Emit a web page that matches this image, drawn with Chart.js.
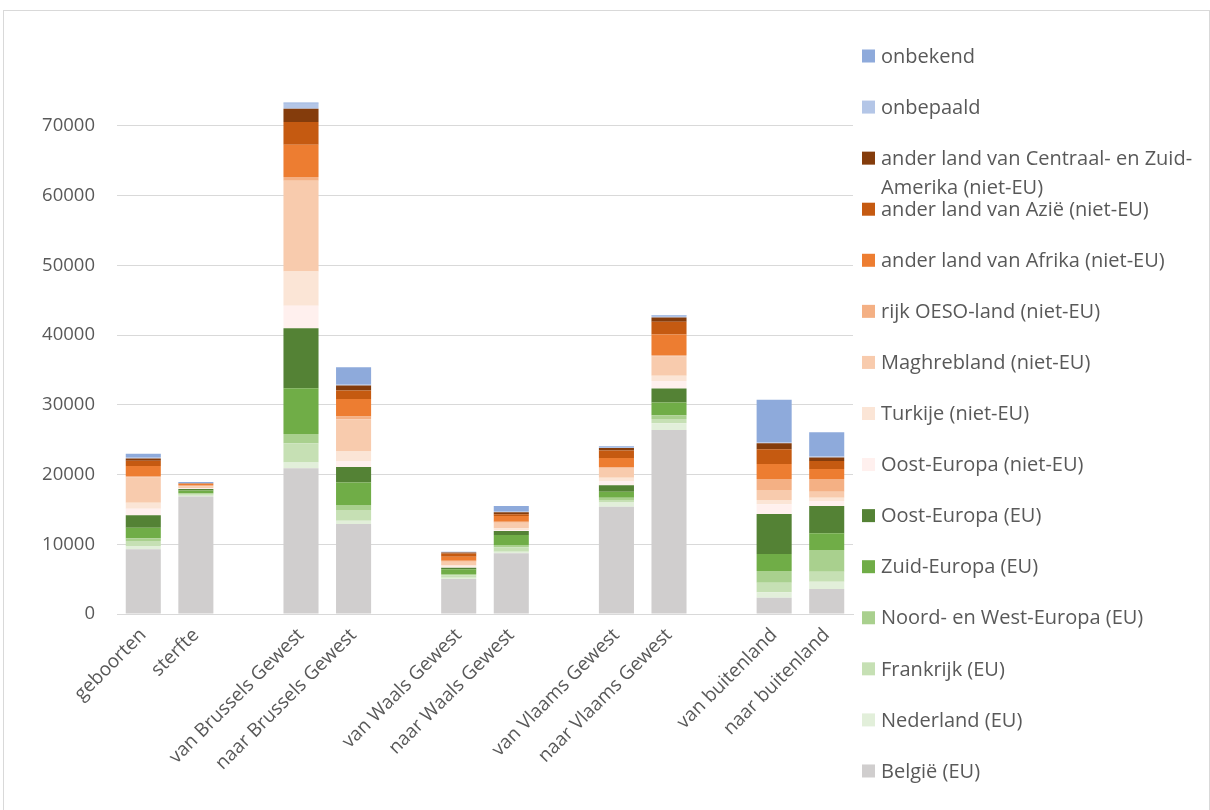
<!DOCTYPE html>
<html>
<head>
<meta charset="utf-8">
<script src="https://cdn.jsdelivr.net/npm/chart.js@4/dist/chart.umd.min.js"></script>
<style>
  body { margin: 0; background: #fff; }
  #frame { position: absolute; left: 3px; top: 10px; width: 1205px; height: 805px; border: 1px solid #d9d9d9; }
  #chart { position: absolute; left: 0; top: 0; }
</style>
</head>
<body>
<div id="frame"></div>
<canvas id="chart" width="1210" height="810"></canvas>
<script>
// categories (empty ones are the gaps between groups)
const categories = ['geboorten', 'sterfte', '', 'van Brussels Gewest', 'naar Brussels Gewest', '',
    'van Waals Gewest', 'naar Waals Gewest', '', 'van Vlaams Gewest', 'naar Vlaams Gewest', '',
    'van buitenland', 'naar buitenland'];

// series, bottom to top of the stack
const belgie      = [9300, 16830, null, 20900, 12910, null, 5020, 8700, null, 15390, 26390, null, 2340, 3590];
const nederland   = [450, 120, null, 810, 470, null, 190, 240, null, 580, 960, null, 770, 1040];
const frankrijk   = [700, 200, null, 2780, 1540, null, 340, 630, null, 380, 620, null, 1380, 1440];
const noordWest   = [400, 160, null, 1330, 720, null, 190, 330, null, 330, 530, null, 1680, 3110];
const zuid        = [1520, 380, null, 6550, 3200, null, 660, 1430, null, 860, 1810, null, 2440, 2390];
const oostEU      = [1770, 240, null, 8610, 2250, null, 240, 580, null, 920, 2010, null, 5740, 3920];
const oostNietEU  = [950, 60, null, 3200, 860, null, 150, 140, null, 620, 1100, null, 1390, 720];
const turkije     = [860, 80, null, 4930, 1330, null, 190, 240, null, 470, 720, null, 610, 470];
const maghreb     = [3630, 250, null, 13000, 4650, null, 520, 810, null, 1390, 2770, null, 1440, 860];
const oeso        = [200, 185, null, 530, 370, null, 150, 140, null, 100, 240, null, 1580, 1830];
const afrika      = [1430, 120, null, 4640, 2540, null, 570, 820, null, 1340, 2920, null, 2150, 1430];
const azie        = [770, 70, null, 3250, 1190, null, 460, 240, null, 1050, 1820, null, 2100, 1150];
const amerika     = [330, 30, null, 1910, 720, null, 150, 290, null, 380, 620, null, 860, 470];
const onbepaald   = [200, 50, null, 710, 240, null, 60, 190, null, 170, 240, null, 100, 150];
const onbekend    = [450, 150, null, 200, 2400, null, 50, 710, null, 120, 100, null, 6120, 3490];

const seriesNames = ['België (EU)', 'Nederland (EU)', 'Frankrijk (EU)', 'Noord- en West-Europa (EU)',
    'Zuid-Europa (EU)', 'Oost-Europa (EU)', 'Oost-Europa (niet-EU)', 'Turkije (niet-EU)',
    'Maghrebland (niet-EU)', 'rijk OESO-land (niet-EU)', 'ander land van Afrika (niet-EU)',
    'ander land van Azië (niet-EU)', 'ander land van Centraal- en Zuid-\nAmerika (niet-EU)',
    'onbepaald', 'onbekend'];
const seriesValues = [belgie, nederland, frankrijk, noordWest, zuid, oostEU, oostNietEU, turkije,
    maghreb, oeso, afrika, azie, amerika, onbepaald, onbekend];
const seriesColors = ['#d0cece', '#e2efda', '#c6e0b4', '#a9d08e', '#70ad47', '#548235', '#fff0ee',
    '#fbe5d6', '#f8cbad', '#f4b084', '#ed7d31', '#c55a11', '#843c0c', '#b4c6e7', '#8eaadb'];

const yTicks = [0, 10000, 20000, 30000, 40000, 50000, 60000, 70000];

const FONT = '"Open Sans", Lato, sans-serif';
Chart.defaults.font.family = FONT;
Chart.defaults.font.size = 18;
Chart.defaults.color = '#595959';

const sideLegend = {
    id: 'sideLegend',
    afterDraw(chart) {
        const ctx = chart.ctx;
        const items = chart.data.datasets.slice().reverse();
        ctx.save();
        ctx.font = '20px ' + FONT;
        ctx.textBaseline = 'middle';
        items.forEach((ds, i) => {
            const y = 56 + i * 51.07;
            ctx.fillStyle = ds.backgroundColor;
            ctx.fillRect(862, y - 6.5, 13, 13);
            ctx.fillStyle = '#595959';
            ds.label.split('\n').forEach((line, j) => ctx.fillText(line, 881, y + 1 + j * 29));
        });
        ctx.restore();
    }
};

new Chart(document.getElementById('chart'), {
    type: 'bar',
    data: {
        labels: categories,
        datasets: seriesNames.map((name, i) => ({
            label: name,
            data: seriesValues[i],
            backgroundColor: seriesColors[i],
            borderWidth: 0,
            barPercentage: 0.667,
            categoryPercentage: 1
        }))
    },
    options: {
        responsive: false,
        animation: false,
        layout: { padding: { left: 0, right: 357, top: 56, bottom: 0 } },
        plugins: { legend: { display: false }, tooltip: { enabled: false } },
        scales: {
            x: {
                stacked: true,
                grid: { display: false },
                border: { color: '#d9d9d9' },
                ticks: { minRotation: 45, maxRotation: 45, autoSkip: false, padding: 2, font: { size: 19 } },
                afterFit: (s) => { s.height = 196; }
            },
            y: {
                stacked: true,
                min: 0,
                max: 80000,
                grid: { color: '#d9d9d9', drawTicks: false },
                border: { display: false },
                ticks: { padding: 22, font: { size: 18.5 }, callback: (v) => String(v) },
                afterBuildTicks: (s) => { s.ticks = yTicks.map(v => ({ value: v })); },
                afterFit: (s) => { s.width = 117; }
            }
        }
    },
    plugins: [sideLegend]
});
</script>
</body>
</html>
